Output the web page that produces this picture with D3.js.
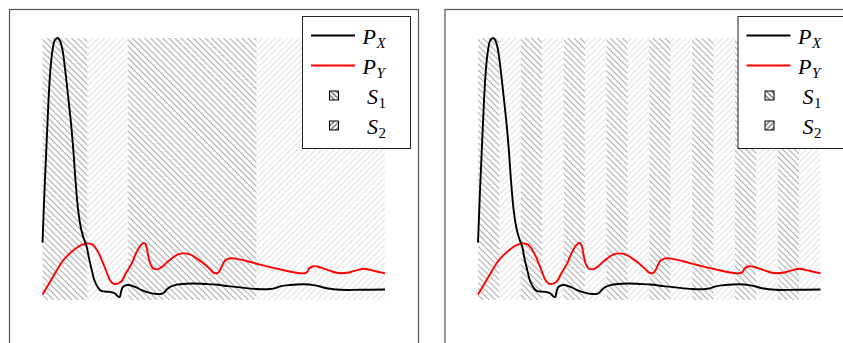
<!DOCTYPE html>
<html>
<head>
<meta charset="utf-8">
<script src="https://cdn.jsdelivr.net/npm/d3@7"></script>
<style>
  html, body { margin: 0; padding: 0; background: #fff; }
  svg { display: block; }
  .leg-text { font-family: 'Liberation Serif', 'Times New Roman', serif; }
</style>
</head>
<body>
<div id="chart"></div>
<script>
// P_X samples: [x, y]
const pxData = [
  [0, 21.9], [0.1, 43.0], [0.2, 61.5], [0.28, 76.0], [0.37, 88.0], [0.47, 95.5], [0.58, 99.2],
  [0.71, 100], [0.84, 98.5], [0.94, 95.2], [1.05, 88.5], [1.2, 77.5], [1.33, 67.6], [1.44, 57.3],
  [1.54, 45.8], [1.67, 34.0], [1.82, 26.5], [1.95, 22.9], [2.06, 20.5], [2.17, 16.0], [2.3, 11.5],
  [2.41, 7.8], [2.53, 5.6], [2.64, 4.2], [2.77, 3.4], [2.97, 3.2], [3.15, 3.1], [3.39, 2.5],
  [3.5, 1.5], [3.6, 1.1], [3.67, 3.1], [3.74, 4.8], [3.85, 5.5], [4.01, 5.7], [4.32, 5.0],
  [4.63, 3.8], [5.02, 2.7], [5.34, 2.3], [5.54, 2.3], [5.68, 2.9], [5.8, 4.0], [5.96, 5.0],
  [6.19, 5.7], [6.42, 6.0], [7.03, 6.3], [7.59, 6.1], [8.06, 5.9], [8.67, 5.3], [9.23, 4.8],
  [10.0, 4.2], [10.63, 4.2], [10.91, 4.6], [11.1, 5.2], [11.56, 5.7], [12.17, 6.0], [12.73, 5.6],
  [13.28, 4.5], [13.9, 3.9], [14.83, 3.9], [16.0, 4.0]
]

// P_Y samples: [x, y]
const pyData = [
  [0, 2.1], [0.35, 6.9], [0.58, 10.1], [0.91, 14.5], [1.2, 17.2], [1.52, 19.5], [1.83, 21.0],
  [2.1, 21.6], [2.31, 21.2], [2.45, 20.2], [2.64, 17.6], [2.84, 13.9], [3.01, 10.3], [3.15, 7.6],
  [3.29, 6.3], [3.43, 6.1], [3.57, 6.5], [3.71, 7.4], [3.9, 10.3], [4.17, 14.0], [4.37, 17.9],
  [4.56, 20.6], [4.71, 21.8], [4.81, 21.4], [4.88, 19.5], [4.95, 16.4], [5.05, 13.5], [5.16, 12.1],
  [5.34, 11.7], [5.49, 12.2], [5.64, 13.0], [5.86, 14.7], [6.11, 16.3], [6.33, 17.4], [6.61, 17.8],
  [6.89, 17.4], [7.2, 15.9], [7.5, 14.1], [7.83, 11.7], [8.01, 10.4], [8.18, 10.3], [8.29, 11.3],
  [8.41, 13.4], [8.53, 15.1], [8.71, 15.8], [8.91, 15.9], [9.54, 14.9], [10.16, 13.5], [11.1, 11.7],
  [11.72, 10.6], [12.22, 10.2], [12.36, 10.7], [12.47, 12.1], [12.64, 12.9], [12.87, 12.7],
  [13.28, 11.6], [13.67, 10.5], [13.95, 10.2], [14.37, 10.6], [14.74, 11.5], [15.02, 11.9],
  [15.3, 11.5], [15.67, 10.8], [16.0, 10.2]
]

// shaded segments (S1 / S2 alternate, starting with S1)
const leftBounds = [0, 2.1, 4, 10, 16]
const rightBounds = d3.range(0, 17)

const legendLabels = [
  { base: 'P', sub: 'X', italicSub: true, type: 'line', color: '#000' },
  { base: 'P', sub: 'Y', italicSub: true, type: 'line', color: '#f00' },
  { base: 'S', sub: '1', italicSub: false, type: 'area', pat: 'leg1' },
  { base: 'S', sub: '2', italicSub: false, type: 'area', pat: 'leg2' }
]

const width = 843, height = 343

const svg = d3.select('#chart')
  .append('svg')
  .attr('width', width)
  .attr('height', height)

const defs = svg.append('defs')

function hatch(id, angle, color, spacing, sw) {
  const p = defs.append('pattern')
    .attr('id', id)
    .attr('patternUnits', 'userSpaceOnUse')
    .attr('width', spacing)
    .attr('height', spacing)
    .attr('patternTransform', `rotate(${angle})`)
  p.append('line')
    .attr('x1', spacing / 2).attr('y1', 0)
    .attr('x2', spacing / 2).attr('y2', spacing)
    .attr('stroke', color)
    .attr('stroke-width', sw)
}
hatch('s1', -45, '#ababab', 4.3, 1.1)
hatch('s2', 45, '#e2e2e2', 4.3, 1.1)
hatch('leg1', -45, '#000', 3.6, 0.8)
hatch('leg2', 45, '#000', 3.6, 0.8)

const x = d3.scaleLinear().domain([0, 16]).range([42.5, 385])
const y = d3.scaleLinear().domain([0, 100]).range([300, 38])

const line = d3.line()
  .x(d => x(d[0]))
  .y(d => y(d[1]))
  .curve(d3.curveCatmullRom.alpha(0.5))

const panels = [
  { offset: 0, bounds: leftBounds },
  { offset: 435.5, bounds: rightBounds }
]

panels.forEach(panel => {
  const g = svg.append('g').attr('transform', `translate(${panel.offset},0)`)

  g.append('rect')
    .attr('x', 9.5).attr('y', 9.5)
    .attr('width', 409).attr('height', 400)
    .attr('fill', 'none')
    .attr('stroke', '#555')
    .attr('stroke-width', 1.2)

  const segs = d3.pairs(panel.bounds)
  g.selectAll('rect.seg')
    .data(segs)
    .enter().append('rect')
      .attr('class', 'seg')
      .attr('x', d => x(d[0]))
      .attr('y', y(100))
      .attr('width', d => x(d[1]) - x(d[0]))
      .attr('height', y(0) - y(100))
      .attr('fill', (d, i) => i % 2 === 0 ? 'url(#s1)' : 'url(#s2)')

  g.append('path')
    .datum(pyData)
    .attr('d', line)
    .attr('fill', 'none')
    .attr('stroke', '#f00')
    .attr('stroke-width', 1.9)

  g.append('path')
    .datum(pxData)
    .attr('d', line)
    .attr('fill', 'none')
    .attr('stroke', '#000')
    .attr('stroke-width', 1.9)

  // legend
  const lg = g.append('g').attr('transform', 'translate(302,16)')
  lg.append('rect')
    .attr('x', 0.5).attr('y', 0.5)
    .attr('width', 108).attr('height', 132)
    .attr('fill', '#fff')
    .attr('stroke', '#222')
    .attr('stroke-width', 1)

  const item = lg.selectAll('g.item')
    .data(legendLabels)
    .enter().append('g')
      .attr('class', 'item')
      .attr('transform', (d, i) => `translate(0,${19.5 + i * 30})`)

  item.filter(d => d.type === 'line').append('line')
    .attr('x1', 9).attr('x2', 53)
    .attr('y1', 0).attr('y2', 0)
    .attr('stroke', d => d.color)
    .attr('stroke-width', 1.8)

  item.filter(d => d.type === 'area').append('rect')
    .attr('x', 27.5).attr('y', -4.5)
    .attr('width', 9).attr('height', 9)
    .attr('fill', d => `url(#${d.pat})`)
    .attr('stroke', '#000')
    .attr('stroke-width', 1)

  const txt = item.append('text')
    .attr('class', 'leg-text')
    .attr('x', d => d.type === 'line' ? 60.5 : 65)
    .attr('y', 8)
    .style('font-size', '22px')
    .attr('fill', '#000')
  txt.append('tspan')
    .style('font-style', 'italic')
    .text(d => d.base)
  txt.append('tspan')
    .attr('dy', 4)
    .attr('dx', 0.5)
    .style('font-size', '15px')
    .style('font-style', d => d.italicSub ? 'italic' : 'normal')
    .text(d => d.sub)
})
</script>
</body>
</html>
